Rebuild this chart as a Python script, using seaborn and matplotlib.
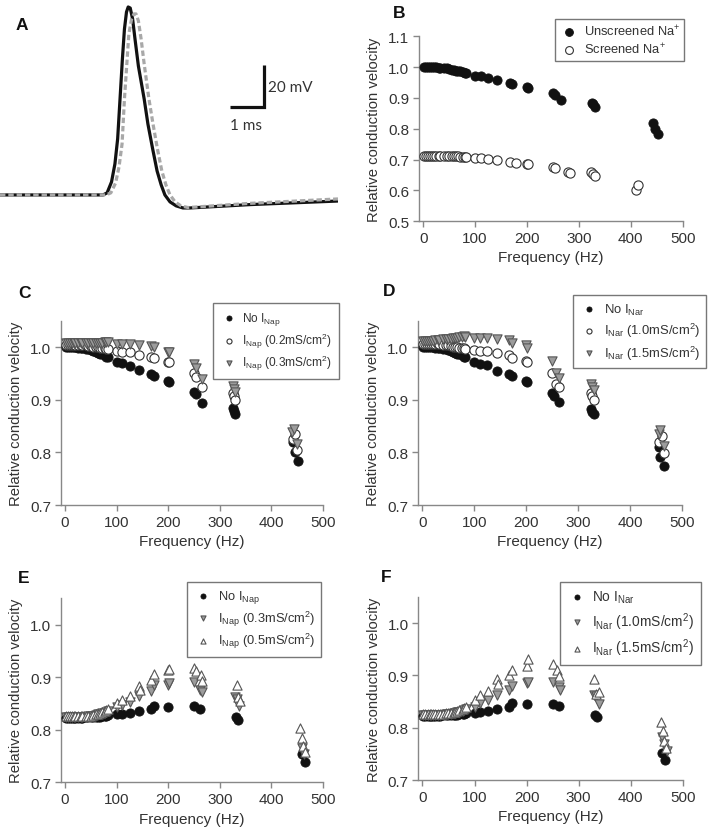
import matplotlib
matplotlib.use("Agg")
import matplotlib.pyplot as plt
import seaborn as sns

# ---------------- DATA ----------------
# Panel A: action potential traces (time ms, membrane potential mV)
ap_t_black = [0, 3.03, 3.15, 3.28, 3.38, 3.46, 3.53, 3.60, 3.66, 3.72, 3.77, 3.83, 3.90, 3.97,
              4.07, 4.24, 4.35, 4.49, 4.62, 4.74, 4.85, 5.00, 5.18, 5.38, 5.59, 7.35, 9.94]
ap_v_black = [-80, -80, -79.0, -73.8, -65.2, -53.3, -34.3, -15.2, -1.0, 7.1, 9.5, 9.0, 3.8, -5.7,
              -18.6, -34.3, -46.2, -58.1, -68.6, -75.2, -80.0, -83.3, -85.2, -86.2, -86.2,
              -84.6, -82.9]
ap_t_gray = [0, 3.12, 3.26, 3.40, 3.50, 3.59, 3.66, 3.74, 3.79, 3.87, 3.94, 4.00, 4.07, 4.15,
             4.24, 4.38, 4.50, 4.63, 4.76, 4.88, 5.00, 5.15, 5.32, 5.53, 7.35, 9.94]
ap_v_gray = [-80, -80, -79.0, -74.3, -66.7, -55.7, -34.3, -15.2, -3.3, 3.8, 6.2, 6.2, 2.9, -5.7,
             -17.6, -34.3, -46.2, -58.1, -68.6, -75.2, -80.0, -83.3, -85.2, -86.0, -84.0, -81.9]

LOW = [1, 5, 10, 14, 17, 20, 25, 30, 33, 40, 45, 50, 55, 60, 63, 67, 71, 77, 80, 83]

# Panel B
b_unscr_f = LOW + [100, 111, 125, 143, 167, 172, 200, 202, 250, 253, 265, 325, 327, 330, 442, 446, 452]
b_unscr_v = [1.0, 1.0, 1.0, 1.0, 1.0, 1.0, 0.999, 0.998, 0.998, 0.997, 0.996, 0.994, 0.992, 0.990,
             0.989, 0.987, 0.986, 0.984, 0.982, 0.981,
             0.972, 0.970, 0.964, 0.957, 0.948, 0.945, 0.935, 0.933, 0.915, 0.910, 0.893, 0.885,
             0.879, 0.872, 0.820, 0.800, 0.783]
b_scr_f = LOW + [100, 111, 125, 143, 167, 178, 200, 202, 250, 253, 278, 282, 323, 327, 330, 410, 413]
b_scr_v = [0.712, 0.712, 0.712, 0.712, 0.712, 0.712, 0.712, 0.712, 0.711, 0.711, 0.711, 0.711,
           0.711, 0.710, 0.710, 0.710, 0.709, 0.709, 0.708, 0.708,
           0.706, 0.704, 0.703, 0.698, 0.693, 0.688, 0.685, 0.684, 0.675, 0.672, 0.660, 0.656,
           0.660, 0.653, 0.648, 0.602, 0.617]

# Panel C
c_none_f = b_unscr_f
c_none_v = b_unscr_v
c_p2_f = LOW + [100, 111, 125, 143, 167, 172, 200, 202, 250, 253, 265, 325, 327, 330, 442, 445, 450]
c_p2_v = [1.004, 1.004, 1.004, 1.004, 1.004, 1.004, 1.004, 1.003, 1.003, 1.003, 1.002, 1.002,
          1.001, 1.000, 1.000, 0.999, 0.998, 0.998, 0.997, 0.996,
          0.992, 0.990, 0.990, 0.985, 0.981, 0.980, 0.972, 0.972, 0.950, 0.944, 0.925, 0.913,
          0.907, 0.900, 0.825, 0.835, 0.805]
c_p3_f = LOW + [100, 111, 125, 143, 167, 172, 200, 202, 250, 253, 265, 325, 327, 330, 440, 443, 450]
c_p3_v = [1.007, 1.007, 1.007, 1.007, 1.007, 1.007, 1.007, 1.007, 1.007, 1.007, 1.007, 1.007,
          1.007, 1.007, 1.007, 1.008, 1.008, 1.010, 1.010, 1.009,
          1.005, 1.005, 1.005, 1.003, 1.002, 1.000, 0.991, 0.990, 0.968, 0.960, 0.940, 0.926,
          0.920, 0.914, 0.838, 0.845, 0.815]

# Panel D
d_none_f = LOW + [100, 111, 125, 143, 167, 172, 200, 202, 250, 253, 262, 325, 327, 330, 455, 457, 465]
d_none_v = [1.0, 1.0, 1.0, 1.0, 1.0, 1.0, 0.999, 0.998, 0.998, 0.997, 0.996, 0.994, 0.992, 0.990,
            0.989, 0.987, 0.986, 0.984, 0.982, 0.981,
            0.972, 0.968, 0.965, 0.955, 0.948, 0.945, 0.935, 0.933, 0.913, 0.908, 0.895, 0.883,
            0.877, 0.872, 0.810, 0.792, 0.775]
d_r10_f = LOW + [100, 111, 125, 143, 167, 172, 200, 202, 250, 258, 262, 325, 327, 330, 455, 460, 465]
d_r10_v = [1.006, 1.006, 1.006, 1.006, 1.006, 1.006, 1.005, 1.005, 1.005, 1.004, 1.004, 1.003,
           1.002, 1.001, 1.000, 1.000, 0.999, 0.998, 0.998, 0.997,
           0.995, 0.993, 0.993, 0.988, 0.985, 0.980, 0.974, 0.972, 0.950, 0.930, 0.925, 0.913,
           0.907, 0.900, 0.820, 0.832, 0.798]
d_r15_f = LOW + [100, 111, 125, 143, 167, 172, 200, 202, 250, 258, 262, 325, 327, 330, 455, 457, 465]
d_r15_v = [1.011, 1.011, 1.012, 1.012, 1.012, 1.012, 1.013, 1.014, 1.014, 1.015, 1.015, 1.016,
           1.016, 1.017, 1.018, 1.018, 1.019, 1.020, 1.021, 1.020,
           1.017, 1.017, 1.018, 1.015, 1.013, 1.008, 1.003, 0.998, 0.973, 0.950, 0.942, 0.930,
           0.925, 0.918, 0.835, 0.843, 0.812]

# Panel E
EF_LOW_DOT = [0.823, 0.823, 0.823, 0.823, 0.823, 0.823, 0.823, 0.823, 0.823, 0.824, 0.824, 0.824,
              0.824, 0.824, 0.825, 0.825, 0.826, 0.826, 0.827, 0.828]
e_none_f = LOW + [100, 111, 125, 143, 167, 172, 200, 250, 262, 331, 336, 460, 466]
e_none_v = EF_LOW_DOT + [0.829, 0.830, 0.831, 0.836, 0.839, 0.846, 0.844, 0.846, 0.840, 0.825,
                         0.819, 0.753, 0.738]
e_p3_f = LOW + [100, 111, 125, 143, 167, 172, 200, 202, 250, 262, 265, 330, 333, 338, 460, 463]
e_p3_v = [0.824, 0.824, 0.824, 0.824, 0.824, 0.824, 0.825, 0.825, 0.825, 0.825, 0.826, 0.826,
          0.827, 0.828, 0.829, 0.830, 0.831, 0.832, 0.834, 0.835,
          0.843, 0.848, 0.852, 0.864, 0.873, 0.885, 0.886, 0.888, 0.891, 0.876, 0.872, 0.862,
          0.858, 0.845, 0.766, 0.754]
e_p5_f = LOW + [100, 111, 125, 143, 145, 167, 172, 200, 202, 250, 253, 263, 265, 333, 336, 340,
                455, 460, 462, 465]
e_p5_v = [0.826, 0.826, 0.826, 0.826, 0.826, 0.826, 0.826, 0.826, 0.826, 0.826, 0.827, 0.827,
          0.828, 0.829, 0.830, 0.831, 0.833, 0.835, 0.838, 0.840,
          0.850, 0.856, 0.865, 0.883, 0.876, 0.895, 0.906, 0.913, 0.916, 0.918, 0.912, 0.904,
          0.892, 0.886, 0.862, 0.855, 0.803, 0.784, 0.770, 0.758]

# Panel F
f_none_f = LOW + [100, 111, 125, 143, 167, 172, 200, 250, 262, 331, 336, 460, 466]
f_none_v = EF_LOW_DOT + [0.829, 0.830, 0.832, 0.836, 0.839, 0.847, 0.845, 0.846, 0.841, 0.825,
                         0.820, 0.752, 0.738]
f_r10_f = LOW + [100, 111, 125, 143, 167, 172, 200, 202, 250, 262, 265, 330, 333, 340, 460, 465, 470]
f_r10_v = [0.824, 0.824, 0.824, 0.824, 0.824, 0.824, 0.825, 0.825, 0.825, 0.825, 0.826, 0.826,
           0.827, 0.828, 0.829, 0.830, 0.831, 0.832, 0.834, 0.836,
           0.840, 0.847, 0.853, 0.862, 0.872, 0.880, 0.886, 0.888, 0.887, 0.878, 0.872, 0.862,
           0.860, 0.845, 0.783, 0.768, 0.755]
f_r15_f = LOW + [100, 111, 125, 143, 145, 167, 172, 200, 202, 250, 258, 263, 330, 333, 340,
                 458, 462, 465, 468]
f_r15_v = [0.827, 0.827, 0.827, 0.827, 0.827, 0.827, 0.827, 0.827, 0.827, 0.827, 0.828, 0.828,
           0.829, 0.830, 0.831, 0.832, 0.834, 0.836, 0.838, 0.840,
           0.853, 0.862, 0.870, 0.893, 0.884, 0.900, 0.910, 0.918, 0.931, 0.921, 0.910, 0.898,
           0.893, 0.865, 0.868, 0.810, 0.793, 0.775, 0.762]

# ---------------- STYLE ----------------
sns.set_style("ticks")
plt.rcParams['font.family'] = ['Liberation Sans', 'DejaVu Sans']
plt.rcParams['mathtext.default'] = 'regular'
plt.rcParams['mathtext.fontset'] = 'custom'
plt.rcParams['mathtext.rm'] = 'Liberation Sans'
plt.rcParams['mathtext.it'] = 'Liberation Sans'

TXT = '#333333'
SPINE = '#888888'

fig = plt.figure(figsize=(7.09, 8.29), dpi=100)


def style_axes(ax, ylim, yticks):
    sns.despine(ax=ax)
    for s in ['left', 'bottom']:
        ax.spines[s].set_color(SPINE)
        ax.spines[s].set_linewidth(1.0)
    ax.tick_params(axis='both', direction='out', length=4, width=1.0, color=SPINE,
                   labelsize=11, labelcolor=TXT, pad=3)
    ax.set_xlim(-8, 500)
    ax.set_xticks([0, 100, 200, 300, 400, 500])
    ax.set_ylim(*ylim)
    ax.set_yticks(yticks)
    ax.set_yticklabels([f"{t:.1f}" for t in yticks])
    ax.set_xlabel("Frequency (Hz)", fontsize=11, color=TXT, labelpad=4)
    ax.set_ylabel("Relative conduction velocity", fontsize=10.7, color=TXT, labelpad=5)


S = 44
def dots(ax, f, v, label):
    sns.scatterplot(x=f, y=v, ax=ax, marker='o', s=S, color='#111111', edgecolor='#111111',
                    linewidth=0.6, label=label, zorder=3)

def opens(ax, f, v, label):
    sns.scatterplot(x=f, y=v, ax=ax, marker='o', s=S, facecolor='white', edgecolor='#333333',
                    linewidth=0.8, label=label, zorder=4)

def downs(ax, f, v, label):
    sns.scatterplot(x=f, y=v, ax=ax, marker='v', s=S, facecolor='#9c9c9c', edgecolor='#555555',
                    linewidth=0.8, label=label, zorder=5)

def ups(ax, f, v, label):
    sns.scatterplot(x=f, y=v, ax=ax, marker='^', s=S, facecolor='white', edgecolor='#555555',
                    linewidth=0.8, label=label, zorder=6)


def legend(ax, anchor, scale=0.55, fs=9.6, spacing=0.3, pad=0.5):
    lg = ax.legend(loc='upper left', bbox_to_anchor=anchor, bbox_transform=fig.transFigure,
                   borderaxespad=0, frameon=True, fancybox=False, fontsize=fs,
                   markerscale=scale, handletextpad=0.35, labelspacing=spacing,
                   borderpad=pad, handlelength=1.5)
    lg.get_frame().set_edgecolor('#555555')
    lg.get_frame().set_linewidth(1.0)
    for t in lg.get_texts():
        t.set_color(TXT)
    return lg


# ---------------- PANEL A ----------------
axA = fig.add_axes([0.0, 0.7226, 0.4767, 0.2774])
axA.set_axis_off()
sns.lineplot(x=ap_t_black, y=ap_v_black, ax=axA, color='#111111', linewidth=2.3,
             sort=False, estimator=None)
sns.lineplot(x=ap_t_gray, y=ap_v_gray, ax=axA, color='#a8a8a8', linewidth=2.3,
             sort=False, estimator=None)
axA.lines[-1].set_dashes([1.7, 0.9])
for ln in axA.lines:
    ln.set_solid_joinstyle('round')
axA.set_xlim(0, 9.94)
axA.set_ylim(-96.2, 13.3)
# scale bar
axA.plot([6.76, 7.76, 7.76], [-38.1, -38.1, -18.1], color='#111111', linewidth=2.3,
         solid_joinstyle='miter', solid_capstyle='butt')
axA.text(7.88, -28.6, "20 mV", fontsize=11, family=['Lato', 'DejaVu Sans'], color=TXT,
         va='center', ha='left')
axA.text(7.24, -46.5, "1 ms", fontsize=11, family=['Lato', 'DejaVu Sans'], color=TXT,
         va='center', ha='center')

# ---------------- PANEL B ----------------
axB = fig.add_axes([0.591, 0.732, 0.372, 0.223])
dots(axB, b_unscr_f, b_unscr_v, "Unscreened Na$^{+}$")
opens(axB, b_scr_f, b_scr_v, "Screened Na$^{+}$")
style_axes(axB, (0.5, 1.1), [0.5, 0.6, 0.7, 0.8, 0.9, 1.0, 1.1])
legend(axB, (0.783, 0.976), scale=0.85, fs=9.3, spacing=0.25, pad=0.35)

# ---------------- PANEL C ----------------
axC = fig.add_axes([0.086, 0.3896, 0.3695, 0.2223])
dots(axC, c_none_f, c_none_v, "No I$_{Nap}$")
opens(axC, c_p2_f, c_p2_v, "I$_{Nap}$ (0.2mS/cm$^{2}$)")
downs(axC, c_p3_f, c_p3_v, "I$_{Nap}$ (0.3mS/cm$^{2}$)")
style_axes(axC, (0.7, 1.05), [0.7, 0.8, 0.9, 1.0])
legend(axC, (0.300, 0.633), fs=8.6, spacing=0.27, pad=0.6)

# ---------------- PANEL D ----------------
axD = fig.add_axes([0.5896, 0.3896, 0.3728, 0.2223])
dots(axD, d_none_f, d_none_v, "No I$_{Nar}$")
opens(axD, d_r10_f, d_r10_v, "I$_{Nar}$ (1.0mS/cm$^{2}$)")
downs(axD, d_r15_f, d_r15_v, "I$_{Nar}$ (1.5mS/cm$^{2}$)")
style_axes(axD, (0.7, 1.05), [0.7, 0.8, 0.9, 1.0])
legend(axD, (0.808, 0.643), fs=9.4, spacing=0.34, pad=0.5)

# ---------------- PANEL E ----------------
axE = fig.add_axes([0.086, 0.0551, 0.3695, 0.222])
dots(axE, e_none_f, e_none_v, "No I$_{Nap}$")
downs(axE, e_p3_f, e_p3_v, "I$_{Nap}$ (0.3mS/cm$^{2}$)")
ups(axE, e_p5_f, e_p5_v, "I$_{Nap}$ (0.5mS/cm$^{2}$)")
style_axes(axE, (0.7, 1.05), [0.7, 0.8, 0.9, 1.0])
legend(axE, (0.264, 0.297), fs=9.3, spacing=0.25, pad=0.5)

# ---------------- PANEL F ----------------
axF = fig.add_axes([0.59, 0.0579, 0.3728, 0.2207])
dots(axF, f_none_f, f_none_v, "No I$_{Nar}$")
downs(axF, f_r10_f, f_r10_v, "I$_{Nar}$ (1.0mS/cm$^{2}$)")
ups(axF, f_r15_f, f_r15_v, "I$_{Nar}$ (1.5mS/cm$^{2}$)")
style_axes(axF, (0.7, 1.05), [0.7, 0.8, 0.9, 1.0])
legend(axF, (0.790, 0.297), fs=9.9, spacing=0.36, pad=0.5)

# panel letters
for lab, (px, py) in {'A': (16, 25), 'B': (393, 13), 'C': (18, 293), 'D': (383, 292),
                       'E': (18, 579), 'F': (381, 578)}.items():
    fig.text(px / 709, 1 - py / 829, lab, fontsize=12.5, fontweight='bold', color='#111111',
             va='center', ha='left')

fig.savefig("out.png", dpi=100)
